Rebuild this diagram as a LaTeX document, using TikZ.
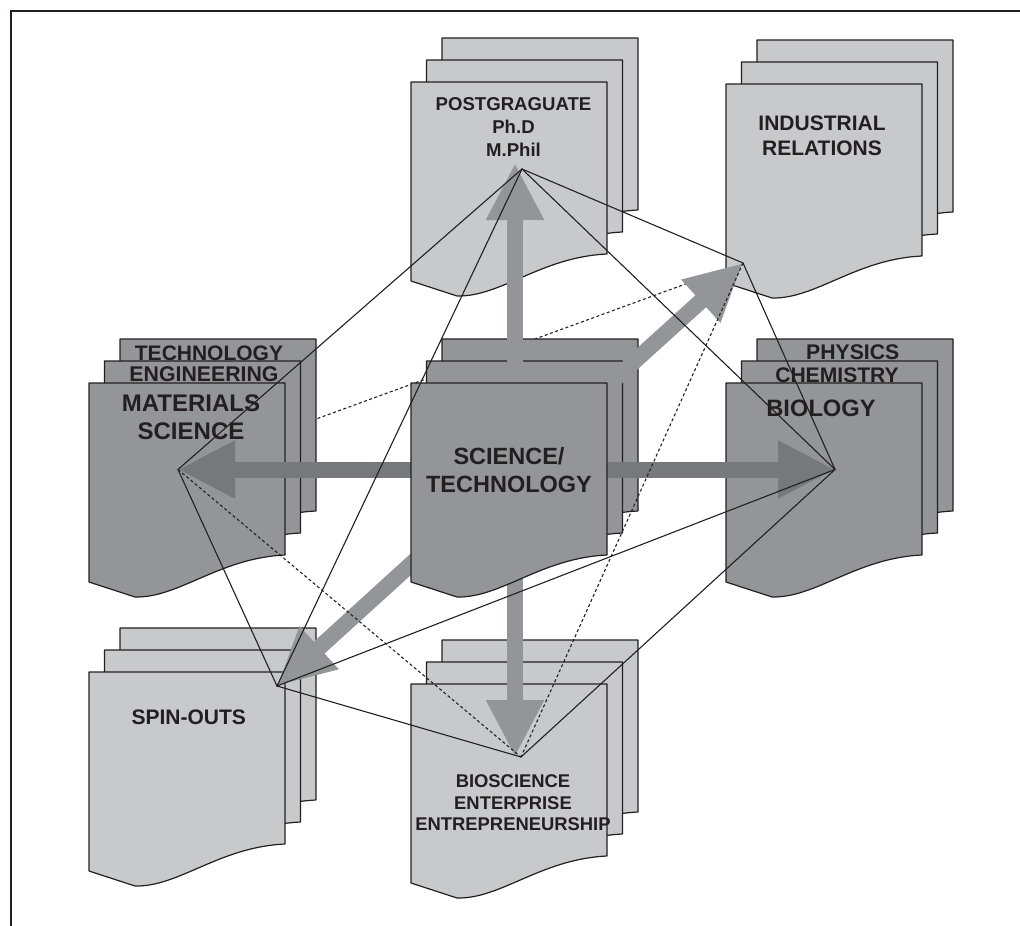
\documentclass[tikz,border=0pt]{standalone}
\usepackage{fontspec}
\setmainfont{Liberation Sans}
\usetikzlibrary{arrows.meta}

\definecolor{lightpage}{HTML}{C8C9CB}
\definecolor{darkpage}{HTML}{939598}
\definecolor{darkarrow}{HTML}{76787B}
\definecolor{ink}{HTML}{231F20}

\tikzset{
  pics/page/.style={code={
    \draw[ink, line width=1.2pt, fill=#1, line join=round]
      (0,0) -- (196,0) -- (196,172)
      .. controls (130,175) and (90,215) .. (46,214) -- (0,199) -- cycle;
  }},
  pics/stack/.style={code={
    \pic at (31,-44) {page=#1};
    \pic at (15.5,-22) {page=#1};
    \pic at (0,0) {page=#1};
  }}
}

\begin{document}
\begin{tikzpicture}[x=1pt, y=-1pt,
  lbl/.style={text=ink, align=center, anchor=base, inner sep=0pt},
  fat/.style={line width=16pt, -{Triangle[length=57pt, width=54pt]}},
  link/.style={ink, line width=1.1pt, line cap=round},
  dlink/.style={ink, line width=1.1pt, dash pattern=on 3pt off 2.5pt}
]
\useasboundingbox (0,0) rectangle (1020,926);
\draw[ink, line width=2pt] (11,926) -- (11,11) -- (1020,11);

% hubs where the thin lines meet
\coordinate (core) at (515,469.5);
\coordinate (pg) at (522,169);
\coordinate (ir) at (743,263);
\coordinate (ms) at (178,469.5);
\coordinate (bl) at (835,469.5);
\coordinate (so) at (277,686);
\coordinate (be) at (521,757);
\coordinate (upTip) at (515,163);
\coordinate (downTip) at (515,757);

\draw[dlink] (ms) -- (ir);

% outer stacks (label nodes sit on the baseline of their last line)
\pic at (411,82) {stack=lightpage};
\node[lbl, font=\bfseries\fontsize{18.6}{23}\selectfont] (pgText) at (513.5,156.7)
  {POSTGRAGUATE\\Ph.D\\M.Phil};

\pic at (726,84) {stack=lightpage};
\node[lbl, font=\bfseries\fontsize{21}{25}\selectfont] (irText) at (822,155)
  {INDUSTRIAL\\RELATIONS};

\pic at (120,339) {page=darkpage};
\node[lbl, font=\bfseries\fontsize{21}{25}\selectfont] (msBack) at (209,360.7) {TECHNOLOGY};
\pic at (104.5,361) {page=darkpage};
\node[lbl, font=\bfseries\fontsize{21.3}{25}\selectfont] (msMid) at (204,381) {ENGINEERING};
\pic at (89,383) {page=darkpage};
\node[lbl, font=\bfseries\fontsize{24}{27.3}\selectfont] (msText) at (191,439)
  {MATERIALS\\SCIENCE};

\pic at (757,339) {page=darkpage};
\node[lbl, font=\bfseries\fontsize{21.2}{25}\selectfont] (blBack) at (852.7,359) {PHYSICS};
\pic at (741.5,361) {page=darkpage};
\node[lbl, font=\bfseries\fontsize{21.1}{25}\selectfont] (blMid) at (837,382.7) {CHEMISTRY};
\pic at (726,383) {page=darkpage};
\node[lbl, font=\bfseries\fontsize{23.7}{27}\selectfont] (blText) at (821,416.7) {BIOLOGY};

\pic at (89,672) {stack=lightpage};
\node[lbl, font=\bfseries\fontsize{21}{25}\selectfont] (soText) at (188.7,724) {SPIN-OUTS};

\pic at (411,684) {stack=lightpage};
\node[lbl, font=\bfseries\fontsize{18.4}{21.7}\selectfont] (beText) at (513,830.7)
  {BIOSCIENCE\\ENTERPRISE\\ENTREPRENEURSHIP};

% centre stack, arrows between its pages
\pic at (442,339) {page=darkpage};
\pic at (426.5,361) {page=darkpage};

\draw[fat, darkpage] (core) -- (upTip);
\draw[fat, darkpage] (core) -- (downTip);
\draw[fat, darkpage] (core) -- (ir);
\draw[fat, darkpage] (core) -- (so);
\draw[fat, darkarrow] (core) -- (ms);
\draw[fat, darkarrow] (core) -- (bl);

\pic at (411,383) {page=darkpage};
\node[lbl, font=\bfseries\fontsize{23.5}{28.7}\selectfont] (stText) at (509,492.7)
  {SCIENCE/\\TECHNOLOGY};

\draw[link] (pg) -- (ms);
\draw[link] (pg) -- (so);
\draw[link] (pg) -- (bl);
\draw[link] (pg) -- (ir);
\draw[link] (ir) -- (bl);
\draw[link] (bl) -- (so);
\draw[link] (bl) -- (be);
\draw[link] (ms) -- (so);
\draw[link] (so) -- (be);
\draw[dlink] (ms) -- (be);
\draw[dlink] (ir) -- (be);

\end{tikzpicture}
\end{document}
